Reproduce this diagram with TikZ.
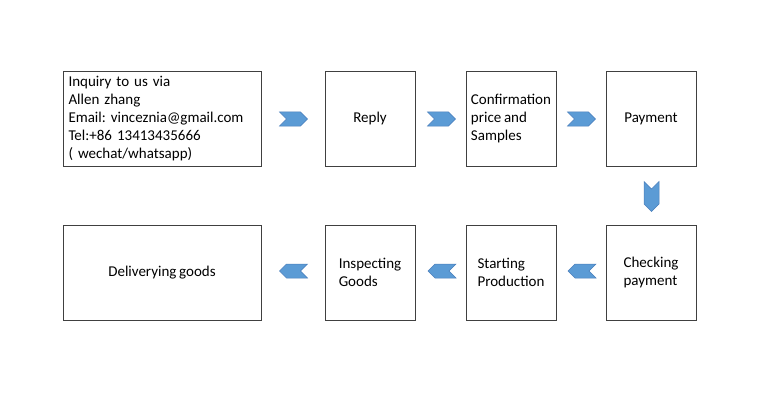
\documentclass[tikz,border=0pt]{standalone}
\usepackage{fontspec}
\setmainfont[WordSpace=0.8]{Carlito}
\usetikzlibrary{shapes.symbols}
\definecolor{chev}{HTML}{5B9BD5}
\definecolor{chevline}{HTML}{4A7EBB}
\definecolor{boxline}{HTML}{404040}
\frenchspacing
\begin{document}
\begin{tikzpicture}[x=1pt,y=-1pt,
  stepbox/.style={draw=boxline,line width=0.9pt,minimum height=95pt,inner sep=0pt,
    font=\fontsize{15}{18}\selectfont\frenchspacing,align=left},
  small/.style={stepbox,minimum width=90pt},
  chevr/.style={shape=signal,fill=chev,draw=chevline,line width=0.5pt,inner sep=0pt,
    signal from=west,signal to=east,minimum width=28pt,minimum height=14pt},
  chevl/.style={shape=signal,fill=chev,draw=chevline,line width=0.5pt,inner sep=0pt,
    signal from=east,signal to=west,minimum width=28pt,minimum height=14pt},
  chevd/.style={shape=signal,fill=chev,draw=chevline,line width=0.5pt,inner sep=0pt,
    signal from=north,signal to=south,minimum width=15pt,minimum height=15pt}]
\useasboundingbox (0,0) rectangle (770,401);
\node[stepbox,minimum width=198pt,text width=187pt] (inq) at (162,118.5)
  {Inquiry to us via\\Allen zhang\\Email: vinceznia@gmail.com\\Tel:+86 13413435666\\( wechat/whatsapp)};
\node[small] (rep) at (370,118.5) {Reply};
\node[small] (conf) at (511,118.5) {Confirmation\\price and\\Samples};
\node[small] (pay) at (651,118.5) {Payment};
\node[small] (chk) at (651,272.5) {Checking\\payment};
\node[small] (sta) at (511,272.5) {Starting\\Production};
\node[small] (ins) at (370,272.5) {Inspecting\\Goods};
\node[stepbox,minimum width=198pt] (del) at (162,272.5) {Deliverying goods};
\node[chevr] (c1) at (293.5,119) {};
\node[chevr] (c2) at (441.5,119) {};
\node[chevr] (c3) at (581.5,119) {};
\node[chevd] (c4) at (651.5,196.5) {};
\node[chevl] (c5) at (582,271) {};
\node[chevl] (c6) at (442,271) {};
\node[chevl] (c7) at (293.5,271) {};
\end{tikzpicture}
\end{document}
